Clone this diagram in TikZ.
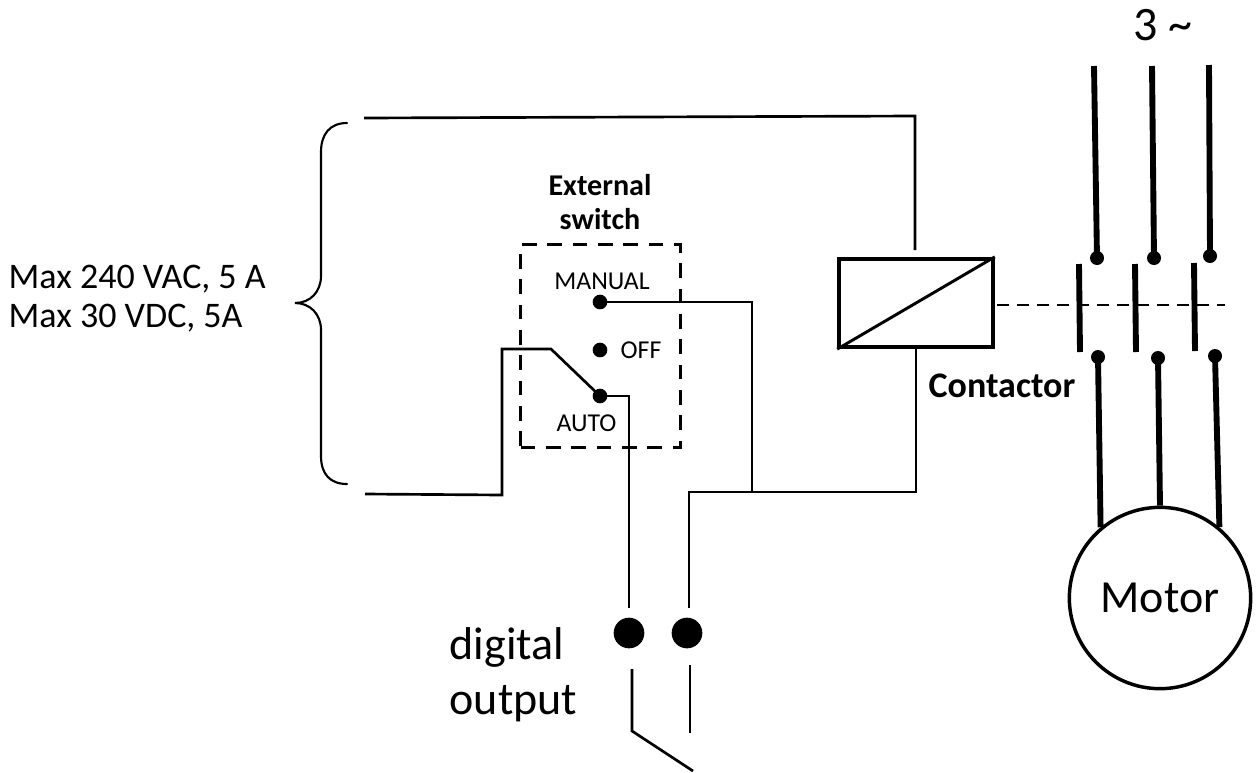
\documentclass[tikz,border=0pt]{standalone}
\usepackage{fontspec}
\setmainfont{Carlito}
\tikzset{
	wire/.style={line width=2pt},
	power/.style={line width=4.4pt},
	pin/.style={circle, fill=black, inner sep=0pt, minimum size=11pt},
	tip/.style={circle, fill=black, inner sep=0pt, minimum size=10.5pt},
	bigpin/.style={circle, fill=black, inner sep=0pt, minimum size=23pt},
	smalltext/.style={font=\fontsize{19.3}{22}\selectfont},
	midtext/.style={font=\fontsize{27}{29.3}\selectfont, align=left},
	boldtext/.style={font=\fontsize{22.6}{26.2}\selectfont\bfseries, align=center},
	contacttext/.style={font=\fontsize{27}{30}\selectfont\bfseries},
	bigtext/.style={font=\fontsize{34.5}{41.2}\selectfont, align=left}
}

\begin{document}
\begin{tikzpicture}[x=.75pt, y=-.75pt]
	\useasboundingbox (0,0) rectangle (1257,772);

	% coil and switch box
	\node[draw, line width=3.2pt, minimum width=115pt, minimum height=66pt, inner sep=0pt] (coil) at (916,303) {};
	\draw[line width=2.2pt] (coil.south west) -- (coil.north east);
	\node[draw, line width=2.6pt, dash pattern=on 11pt off 8pt, minimum width=120pt, minimum height=152pt, inner sep=0pt] (extbox) at (600.5,346) {};

	\node[boldtext] (extlabel) at (600,202) {External\\switch};
	\node[pin] (manualpin) at (600,302) {};
	\node[pin] (offpin) at (600,350) {};
	\node[pin] (autopin) at (600,396) {};
	\node[smalltext] (manuallabel) at (602,281) {MANUAL};
	\node[smalltext] (offlabel) at (641,350) {OFF};
	\node[smalltext] (autolabel) at (586.5,423) {AUTO};

	\node[bigpin] (outa) at (629,633) {};
	\node[bigpin] (outb) at (687,633) {};
	\node[bigtext, anchor=west] (outlabel) at (445,675) {digital\\output};
	\node[midtext, anchor=west] (ratelabel) at (4,299) {Max 240 VAC, 5 A\\Max 30 VDC, 5A};
	\node[contacttext] (contlabel) at (1002,386) {Contactor};
	\node[bigtext, font=\fontsize{36}{41}\selectfont] (phaselabel) at (1163,25) {3 \char`\~};
	\node[draw, circle, line width=2.6pt, minimum size=136pt, inner sep=0pt, font=\fontsize{34.5}{40}\selectfont] (motor) at (1160,598) {Motor};

	% free ends of the wires
	\coordinate (topstart) at (364,118);
	\coordinate (topcorner) at (915,116);
	\coordinate (coiltop) at (915,250);
	\coordinate (botstart) at (365,494);
	\coordinate (botcorner) at (502,495);
	\coordinate (pivotleft) at (502,349);
	\coordinate (pivot) at (551,349);
	\coordinate (manualdrop) at (752,492);
	\coordinate (coilcorner) at (916,492);
	\coordinate (outbcorner) at (689,492);
	\coordinate (outaend) at (629,608);
	\coordinate (outbend) at (689,608);
	\coordinate (relaya) at (632,669);
	\coordinate (relayaend) at (632,731);
	\coordinate (relayb) at (690,665);
	\coordinate (relaybend) at (690,733);
	\coordinate (relayblade) at (693,771);

	\draw[wire] (topstart) -- (topcorner) -- (coiltop);
	\draw[wire] (botstart) -- (botcorner) -- (pivotleft) -- (pivot) -- (autopin.center);
	\draw[wire] (manualpin.center) -| (manualdrop);
	\draw[wire] (autopin.center) -| (outaend);
	\draw[wire] (coil.south) -- (coilcorner) -- (outbcorner) -- (outbend);
	\draw[wire] (relaya) -- (relayaend) -- (relayblade);
	\draw[wire] (relayb) -- (relaybend);

	% three phase contacts
	\foreach \n/\xtop/\ytop/\xup/\yup/\xbar/\ybar/\xlow/\ylow/\ang in {
		a/1094/66/1097/258/1079/264/1098/357/130,
		b/1152/66/1154/258/1135/264/1158/358/90,
		c/1209/65/1210/256/1194/263/1215/356/50}{
		\coordinate (line\n) at (\xtop,\ytop);
		\node[tip] (up\n) at (\xup,\yup) {};
		\node[tip] (low\n) at (\xlow,\ylow) {};
		\coordinate (bar\n) at (\xbar,\ybar);
		\coordinate (barend\n) at (\xbar+1,\ybar+88);
		\draw[power] (line\n) -- (up\n.center);
		\draw[line width=4.4pt] (bar\n) -- (barend\n);
		\draw[power] (low\n.center) -- (motor.\ang);
	}
	\coordinate (linkend) at (1225,305);
	\draw[line width=1.7pt, dash pattern=on 9pt off 6pt] (coil.east) ++(2,2) -- (linkend);

	% brace round the two supply wires
	\draw[line width=1.6pt, line cap=round] (347,123) .. controls (330,123) and (321,134) .. (321,152)
		-- (321,276) .. controls (321,292) and (310,303) .. (295,303)
		.. controls (310,303) and (321,314) .. (321,330)
		-- (321,456) .. controls (321,474) and (330,484) .. (347,484);
\end{tikzpicture}
\end{document}
